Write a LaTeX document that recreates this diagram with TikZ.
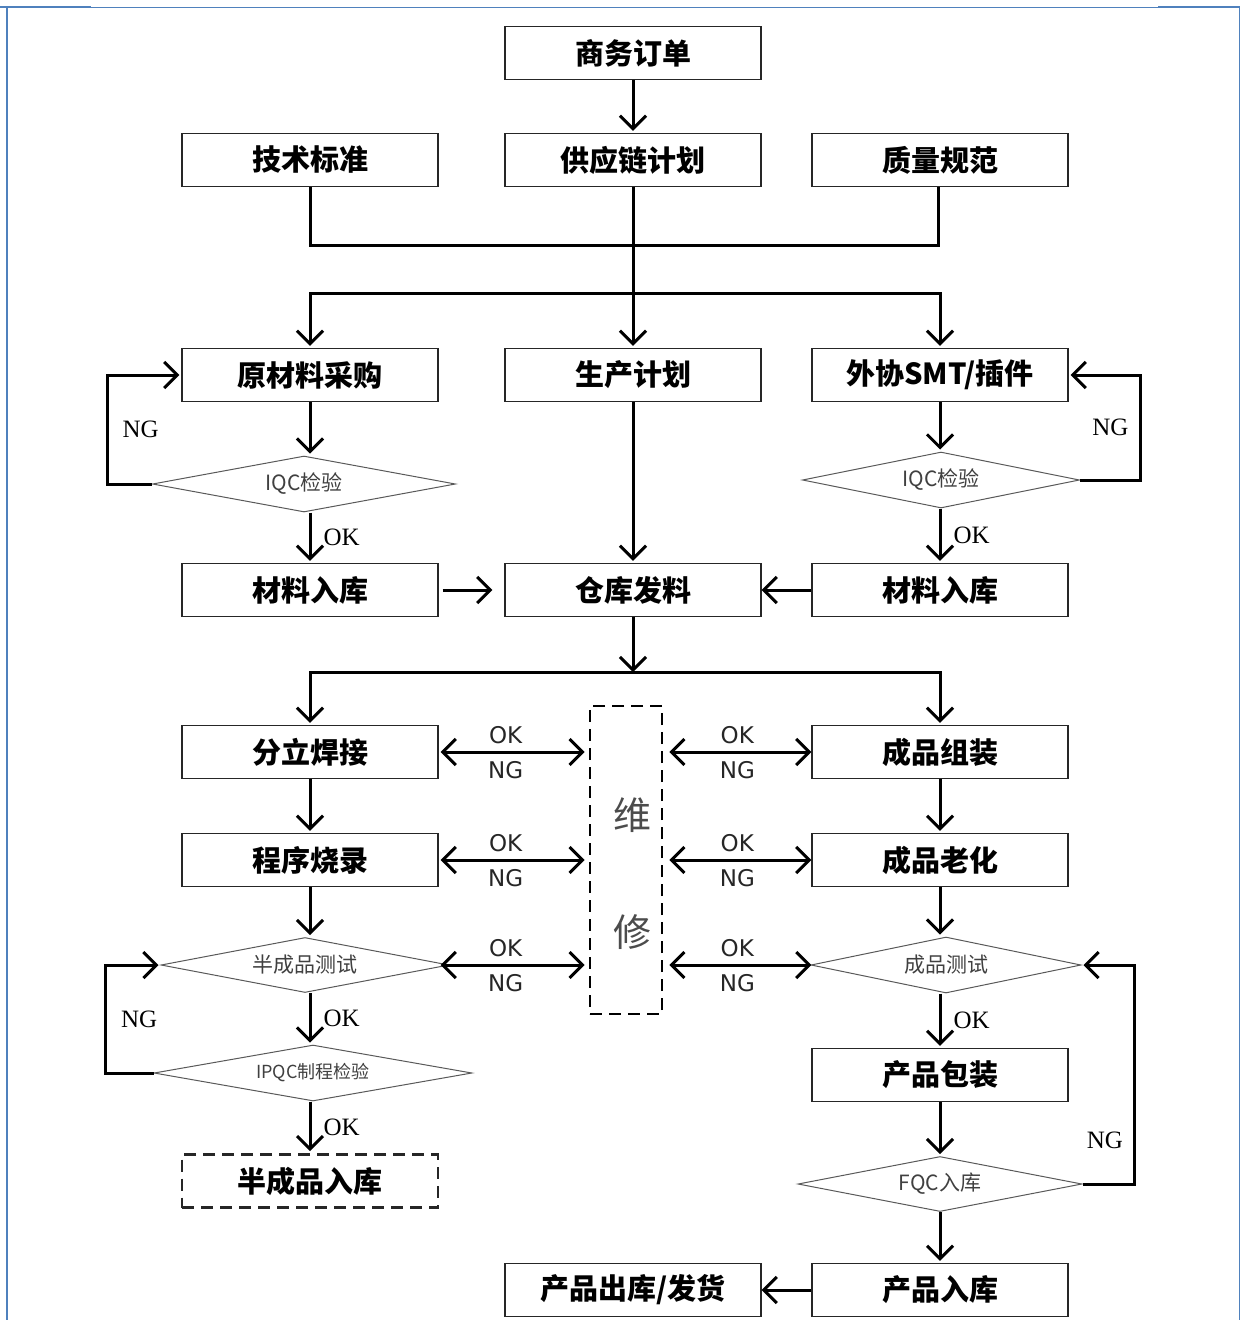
\documentclass[tikz,border=0pt]{standalone}
\usepackage{fontspec}
\newfontfamily\cjk{Noto Sans CJK SC}
\newfontfamily\oksans{DejaVu Sans}
\newfontfamily\okserif{Liberation Serif}
\usepackage{tikz}
\usetikzlibrary{positioning}
\usetikzlibrary{shapes.geometric}
\usetikzlibrary{arrows.meta}
\definecolor{frameblue}{RGB}{79,129,189}
\tikzset{basic box/.style={draw=black!85,
                           line width=1.3pt,
                           minimum width=256pt,
                           minimum height=53pt,
                           inner sep=0pt,
                           font=\cjk\bfseries\fontsize{29}{31}\selectfont}}
\tikzset{check/.style={draw=black!65,
                       line width=1pt,
                       diamond,
                       aspect=5,
                       inner sep=0pt,
                       text=black!75,
                       font=\cjk\fontsize{21}{23}\selectfont}}
\tikzset{line/.style={draw,
                      line width=3pt}}
\tikzset{edge/.style={line,
                      -{Straight Barb[length=13pt,width=26pt]},
                      shorten >=2pt}}
\tikzset{twoway/.style={line,
                        {Straight Barb[length=13pt,width=26pt]}-{Straight Barb[length=13pt,width=26pt]}}}

\begin{document}
\begin{tikzpicture}
    [
      x=1pt, y=-1pt,
      repair box/.style={draw=black, line width=2.6pt, dash pattern=on 12pt off 7pt,
        minimum width=72pt, minimum height=308pt, inner sep=0pt},
      ok mark/.style={font=\okserif\fontsize{25}{25}\selectfont, inner sep=0pt},
      repair mark/.style={font=\oksans\fontsize{23}{23}\selectfont, text=black!85, inner sep=0pt},
    ]
    \useasboundingbox (0,0) rectangle (1240,1320);

    % frame
    \draw [frameblue, line width=1pt] (7,1320) -- (7,7) -- (1239,7) -- (1239,1320);
    \draw [frameblue, line width=2pt] (7,8) -- (7,1320);
    \draw [frameblue, line width=2.5pt] (0,7) -- (91,7);
    \draw [frameblue, line width=2.5pt] (1158,7) -- (1240,7);

    % vertices
    \node [basic box] (order)   at (633,53)  {商务订单};
    \node [basic box] (tech)    at (310,160) {技术标准};
    \node [basic box] (supply)  at (633,160) {供应链计划};
    \node [basic box] (quality) at (940,160) {质量规范};
    \node [basic box] (raw)     at (310,375) {原材料采购};
    \node [basic box] (plan)    at (633,375) {生产计划};
    \node [basic box] (smt)     at (940,375) {外协SMT/插件};
    \node [check, minimum width=303pt, minimum height=56pt] (iqcL) at (304,484) {IQC检验};
    \node [check, minimum width=277pt, minimum height=56pt] (iqcR) at (941,480) {IQC检验};
    \node [basic box] (stockL)  at (310,590) {材料入库};
    \node [basic box] (store)   at (633,590) {仓库发料};
    \node [basic box] (stockR)  at (940,590) {材料入库};
    \node [basic box] (weld)    at (310,752) {分立焊接};
    \node [basic box] (assem)   at (940,752) {成品组装};
    \node [basic box] (burn)    at (310,860) {程序烧录};
    \node [basic box] (aging)   at (940,860) {成品老化};
    \node [check, minimum width=288pt, minimum height=55pt] (stest) at (305,965) {半成品测试};
    \node [check, minimum width=270pt, minimum height=56pt] (ftest) at (946,965) {成品测试};
    \node [check, minimum width=318pt, minimum height=56pt,
           font=\cjk\fontsize{18}{20}\selectfont] (ipqc) at (313,1073) {IPQC制程检验};
    \node [basic box] (pack)    at (940,1075) {产品包装};
    \node [basic box, line width=2.6pt, dash pattern=on 12pt off 7pt] (semi) at (310,1181) {半成品入库};
    \node [check, minimum width=284pt, minimum height=55pt] (fqc) at (940,1184) {FQC入库};
    \node [basic box] (ship)    at (633,1290) {产品出库/发货};
    \node [basic box] (instock) at (940,1290) {产品入库};

    \node [repair box] (rep) at (626,860) {};
    \node [font=\cjk\fontsize{38}{38}\selectfont, text=black!70] (wei) at (632,815) {维};
    \node [font=\cjk\fontsize{38}{38}\selectfont, text=black!70] (xiu) at (632,932) {修};

    \coordinate (fork) at (633,293);
    \coordinate (bus) at (633,672);

    % edges
    \path [edge] (order) -- (supply);
    \path [line] (tech.south) -- ++(0,58) -| ([xshift=-2pt]quality.south);
    \path [edge] (supply) -- (plan);
    \path [edge] (fork) -| (raw.north);
    \path [edge] (fork) -| (smt.north);

    \path [edge] (raw.south) -- (raw.south |- iqcL.north);
    \path [edge] (smt.south) -- (smt.south |- iqcR.north);
    \path [edge] (raw.south |- iqcL.south) -- node [ok mark, right=12pt] (okA) {OK} (stockL.north);
    \path [edge] (smt.south |- iqcR.south) -- node [ok mark, right=12pt] (okB) {OK} (stockR.north);
    \path [edge] (iqcL.west) -- ++(-45,0) |- node [ok mark, pos=.25, right=14pt] (ngA) {NG} (raw.west);
    \path [edge] (iqcR.east) -- ++(60,0) |- node [ok mark, pos=.25, left=10pt] (ngB) {NG} (smt.east);

    \path [edge, shorten <=4pt, shorten >=12pt] (stockL) -- (store);
    \path [edge, shorten >=0pt] (stockR) -- (store);
    \path [edge] (plan) -- (store);

    \path [edge, shorten >=0pt] (store) -- (bus);
    \path [edge] (bus) -| (weld.north);
    \path [edge] (bus) -| (assem.north);

    \path [edge] (weld) -- (burn);
    \path [edge] (burn.south) -- (burn.south |- stest.north);
    \path [edge] (burn.south |- stest.south) -- node [ok mark, right=12pt] (okC) {OK} (burn.south |- ipqc.north);
    \path [edge] (burn.south |- ipqc.south) -- node [ok mark, right=12pt] (okD) {OK} (semi.north);
    \path [edge] (ipqc.west) -- ++(-48,0) |- node [ok mark, pos=.25, right=14pt] (ngC) {NG} (stest.west);

    \path [edge] (assem) -- (aging);
    \path [edge] (aging.south) -- (aging.south |- ftest.north);
    \path [edge] (aging.south |- ftest.south) -- node [ok mark, right=12pt] (okE) {OK} (pack.north);
    \path [edge] (pack.south) -- (pack.south |- fqc.north);
    \path [edge] (pack.south |- fqc.south) -- (instock.north);
    \path [edge] (fqc.east) -- ++(52,0) |- node [ok mark, pos=.1, left=10pt] (ngD) {NG} (ftest.east);
    \path [edge, shorten >=0pt] (instock) -- (ship);

    % repair links
    \foreach \a in {weld,burn,stest}
    {
    \path [twoway, shorten <=2pt, shorten >=4pt] (\a.east -| weld.east) -- (\a.east -| rep.west)
      node [repair mark, midway, xshift=-8pt, yshift=17pt] {OK}
      node [repair mark, midway, xshift=-8pt, yshift=-18pt] {NG};
    }
    \foreach \b in {assem,aging,ftest}
    {
    \path [twoway, shorten <=6pt] (rep.east |- \b.west) -- (\b.west -| assem.west)
      node [repair mark, midway, yshift=17pt] {OK}
      node [repair mark, midway, yshift=-18pt] {NG};
    }

  \end{tikzpicture}
\end{document}
